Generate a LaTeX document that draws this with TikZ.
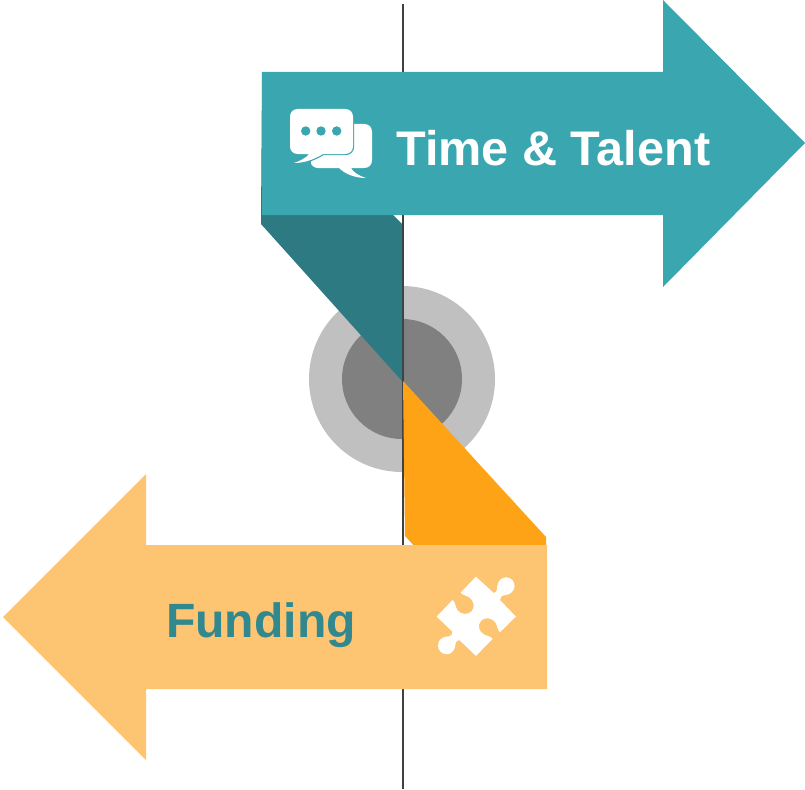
\documentclass[tikz,border=0pt]{standalone}
\usepackage{fontspec}
\setmainfont{Liberation Sans}
\definecolor{tealArrow}{HTML}{3AA6B0}
\definecolor{tealFold}{HTML}{2D7A82}
\definecolor{tealText}{HTML}{32888F}
\definecolor{orangeArrow}{HTML}{FDC471}
\definecolor{orangeFold}{HTML}{FDA315}
\definecolor{ringOuter}{HTML}{C0C0C0}
\definecolor{ringInner}{HTML}{808080}
\definecolor{axisLine}{HTML}{404040}
\begin{document}
\begin{tikzpicture}[x=1pt, y=-1pt,
  label text/.style={font=\bfseries\fontsize{#1}{#1}\selectfont, inner sep=0pt, anchor=base west},
  bubble/.style={fill=white, preaction={draw=tealArrow, line width=2.4pt, line join=round}}]
\useasboundingbox (0,0) rectangle (805,789);
\fill[ringOuter] (402,379) circle (93);
\fill[ringInner] (402,379) circle (60);
\draw[axisLine, line width=1.2pt] (403,4) -- (403,789);
\fill[tealFold] (262,72) -- (261,224) -- (402,381) -- (402,224) -- (393,215) -- cycle;
\fill[orangeFold] (403,381) -- (546,537) -- (546,550) -- (418,550) -- (405,536) -- cycle;
\fill[tealArrow] (262,72) -- (663,72) -- (663,0) -- (805,143) -- (663,287) -- (663,215) -- (262,215) -- cycle;
\fill[orangeArrow] (547,545) -- (146,545) -- (146,474) -- (3,617) -- (146,760) -- (146,689) -- (547,689) -- cycle;
\node[label text=48.6, text=white] (talent) at (396,165) {Time \& Talent};
\node[label text=48.1, text=tealText] (funding) at (166,637) {Funding};
% speech bubbles
\fill[white] (318,124) -- (364,124) .. controls (369,124) and (372,127) .. (372,132) -- (372,160) .. controls (372,165) and (369,168) .. (364,168) -- (351,168) .. controls (353,172) and (359,176) .. (366,178) .. controls (355,178) and (345,174) .. (339,168) -- (318,168) .. controls (314,168) and (311,165) .. (311,163) -- cycle;
\path[bubble] (298,109) -- (345,109) .. controls (350,109) and (353,112) .. (353,117) -- (353,146) .. controls (353,151) and (350,154) .. (345,154) -- (323,154) .. controls (315,159) and (305,163) .. (294,163) .. controls (300,161) and (306,158) .. (309,154) -- (298,154) .. controls (293,154) and (290,151) .. (290,146) -- (290,117) .. controls (290,112) and (293,109) .. (298,109) -- cycle;
\fill[tealArrow] (305.7,131) circle (4.7);
\fill[tealArrow] (321,131) circle (4.7);
\fill[tealArrow] (336.7,131) circle (4.7);
% puzzle piece
\begin{scope}[shift={(420,560)}, x=0.333pt, y=-0.333pt]
\fill[white] (168,50) -- (220,98) .. controls (228,100) and (232,92) .. (232,78) .. controls (234,62) and (246,52) .. (258,52) .. controls (274,52) and (284,64) .. (284,78) .. controls (284,92) and (272,104) .. (258,105) .. controls (246,106) and (240,112) .. (240,120) -- (288,170) -- (240,217) .. controls (232,210) and (232,195) .. (226,187) .. controls (216,174) and (196,170) .. (184,182) .. controls (172,194) and (176,214) .. (190,222) .. controls (198,228) and (212,228) .. (218,237) -- (168,288) -- (118,240) .. controls (110,240) and (106,248) .. (106,258) .. controls (104,272) and (92,284) .. (80,283) .. controls (64,283) and (54,270) .. (54,256) .. controls (54,242) and (66,230) .. (80,230) .. controls (92,230) and (98,224) .. (97,215) -- (50,170) -- (98,120) .. controls (106,126) and (106,140) .. (112,150) .. controls (122,164) and (144,166) .. (155,154) .. controls (166,142) and (162,122) .. (148,112) .. controls (140,106) and (128,106) .. (122,98) -- cycle;
\end{scope}
\end{tikzpicture}
\end{document}
